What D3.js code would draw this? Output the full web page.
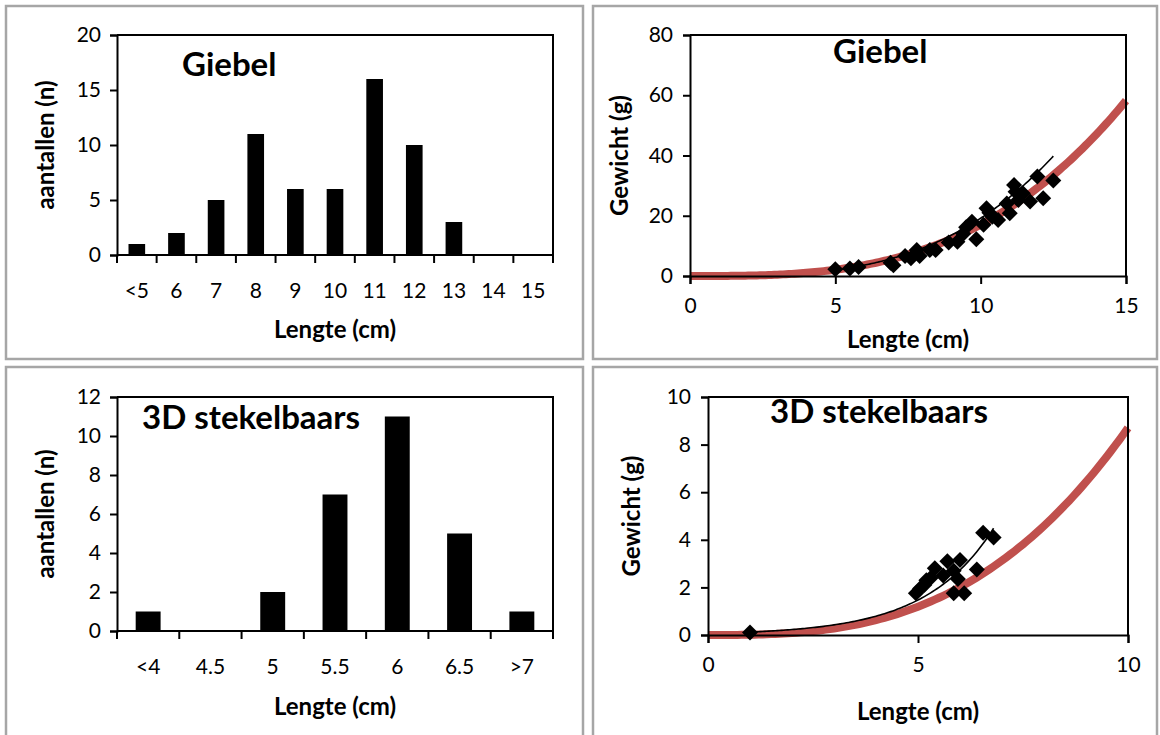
<!DOCTYPE html>
<html>
<head>
<meta charset="utf-8">
<script src="https://cdn.jsdelivr.net/npm/d3@7"></script>
<style>
  html, body { margin: 0; padding: 0; background: #fff; }
  svg { display: block; font-family: Lato, 'Open Sans', sans-serif; }
</style>
</head>
<body>
<svg id="chart" width="1160" height="735"></svg>
<script>
// ---- data ----
var giebelCats = ['<5', '6', '7', '8', '9', '10', '11', '12', '13', '14', '15'];
var giebelCounts = [1, 2, 5, 11, 6, 6, 16, 10, 3, 0, 0];

var stekelCats = ['<4', '4.5', '5', '5.5', '6', '6.5', '>7'];
var stekelCounts = [1, 0, 2, 7, 11, 5, 1];

var giebelLen = [5.0, 5.5, 5.8, 6.9, 7.0, 7.4, 7.6, 7.8, 7.9, 8.25, 8.45, 8.9, 9.2, 9.5, 9.7, 9.85, 10.1, 10.2, 10.4, 10.6, 10.9, 11.0, 11.15, 11.3, 11.45, 11.7, 11.95, 12.15, 12.5, 10.3, 11.2, 9.4];
var giebelWeight = [2.2, 2.5, 3.0, 4.4, 3.6, 6.6, 5.9, 8.6, 6.6, 8.6, 8.6, 11.1, 11.4, 16.2, 18.0, 12.2, 17.0, 22.5, 19.7, 18.6, 24.1, 20.8, 30.2, 25.2, 27.5, 24.7, 33.0, 25.8, 31.7, 21.0, 28.0, 14.0];

var stekelLen = [1.0, 4.95, 5.05, 5.15, 5.2, 5.3, 5.4, 5.6, 5.7, 5.85, 5.85, 5.95, 6.0, 6.1, 6.4, 6.55, 6.8];
var stekelWeight = [0.1, 1.75, 1.95, 2.1, 2.3, 2.4, 2.8, 2.5, 3.1, 2.7, 1.75, 2.35, 3.15, 1.75, 2.75, 4.3, 4.1];

// trend lines (power / exponential fits)
var giebelRef = { a: 0.0159, b: 3.03, from: 0, to: 15 };
var giebelFit = { a: 0.0103, b: 3.27, from: 5, to: 12.5 };
var stekelRef = { a: 0.01174, b: 2.87, from: 0, to: 10 };
var stekelFit = { a: 0.0662, k: 0.62, from: 1, to: 6.8 };

var svg = d3.select('#chart');

// panel frames
[[6, 6, 577, 353], [593, 6, 564, 353], [6, 367, 577, 380], [593, 367, 564, 380]].forEach(function(p) {
  svg.append('rect')
    .attr('x', p[0]).attr('y', p[1]).attr('width', p[2]).attr('height', p[3])
    .attr('fill', 'none').attr('stroke', '#a6a6a6').attr('stroke-width', 2.5);
});

function styleAxis(a) {
  a.select('.domain').attr('stroke', '#000').attr('stroke-width', 2);
  a.selectAll('.tick line').attr('stroke', '#000').attr('stroke-width', 2);
  a.selectAll('.tick text').attr('font-size', 21).attr('fill', '#000').attr('font-family', 'Lato, sans-serif');
}

function labels(g, o, ytitle) {
  g.append('text').attr('x', o.tx).attr('y', o.ty).attr('font-size', 33).attr('font-weight', 700).text(o.title);
  g.append('text').attr('x', (o.x0 + o.x1) / 2).attr('y', o.xly).attr('text-anchor', 'middle')
    .attr('font-size', 24).attr('font-weight', 700).text('Lengte (cm)');
  g.append('text').attr('transform', 'translate(' + o.ylx + ',' + (o.y0 + o.y1) / 2 + ') rotate(-90)')
    .attr('text-anchor', 'middle').attr('font-size', 24).attr('font-weight', 700).text(ytitle);
}

function drawBars(o) {
  var g = svg.append('g');
  var x = d3.scaleBand().domain(o.cats).range([o.x0, o.x1]).paddingInner(o.pad).paddingOuter(o.pad / 2);
  var y = d3.scaleLinear().domain([0, o.ymax]).range([o.y1, o.y0]);

  g.selectAll('rect.bar')
    .data(o.values)
    .enter().append('rect')
    .attr('class', 'bar')
    .attr('x', function(d, i) { return x(o.cats[i]); })
    .attr('y', function(d) { return y(d); })
    .attr('width', x.bandwidth())
    .attr('height', function(d) { return y(0) - y(d); })
    .attr('fill', '#000');

  // box
  g.append('path')
    .attr('d', 'M' + o.x0 + ',' + o.y0 + 'H' + o.x1 + 'V' + o.y1)
    .attr('fill', 'none').attr('stroke', '#000').attr('stroke-width', 2);

  var ya = g.append('g').attr('transform', 'translate(' + o.x0 + ',0)')
    .call(d3.axisLeft(y).tickValues(d3.range(0, o.ymax + 1, o.ystep)).tickSize(7).tickPadding(9));
  styleAxis(ya);

  // category ticks sit between the bars
  var edges = d3.range(o.cats.length + 1).map(function(i) { return o.x0 + i * (o.x1 - o.x0) / o.cats.length; });
  g.selectAll('line.xt').data(edges).enter().append('line')
    .attr('x1', function(d) { return d; }).attr('x2', function(d) { return d; })
    .attr('y1', o.y1).attr('y2', o.y1 + 8)
    .attr('stroke', '#000').attr('stroke-width', 2);
  g.append('line').attr('x1', o.x0).attr('x2', o.x1).attr('y1', o.y1).attr('y2', o.y1)
    .attr('stroke', '#000').attr('stroke-width', 2);
  g.selectAll('text.xl').data(o.cats).enter().append('text')
    .attr('x', function(d) { return x(d) + x.bandwidth() / 2; })
    .attr('y', o.y1 + 43)
    .attr('text-anchor', 'middle')
    .attr('font-size', 21)
    .text(function(d) { return d; });

  labels(g, o, 'aantallen (n)');
}

function drawScatter(o) {
  var g = svg.append('g');
  var x = d3.scaleLinear().domain([0, o.xmax]).range([o.x0, o.x1]);
  var y = d3.scaleLinear().domain([0, o.ymax]).range([o.y1, o.y0]);

  var clip = 'clip-' + o.id;
  svg.append('clipPath').attr('id', clip).append('rect')
    .attr('x', o.x0 - 6).attr('y', o.y0).attr('width', o.x1 - o.x0 + 12).attr('height', o.y1 - o.y0 + 6);

  var line = d3.line().x(function(d) { return x(d[0]); }).y(function(d) { return y(d[1]); });

  var refPts = d3.range(o.ref.from, o.ref.to + 0.001, 0.1).map(function(L) { return [L, o.ref.a * Math.pow(L, o.ref.b)]; });
  g.append('path').datum(refPts).attr('d', line).attr('clip-path', 'url(#' + clip + ')')
    .attr('fill', 'none').attr('stroke', '#c0504d').attr('stroke-width', 8);

  var pts = o.len.map(function(L, i) { return [L, o.wt[i]]; });
  g.selectAll('path.pt').data(pts).enter().append('path')
    .attr('class', 'pt')
    .attr('d', 'M0,-8L8,0L0,8L-8,0Z')
    .attr('transform', function(d) { return 'translate(' + x(d[0]) + ',' + y(d[1]) + ')'; })
    .attr('fill', '#000');

  var fitPts = d3.range(o.fit.from, o.fit.to + 0.001, 0.05).map(function(L) { return [L, o.fitFn(L)]; });
  g.append('path').datum(fitPts).attr('d', line)
    .attr('fill', 'none').attr('stroke', '#000').attr('stroke-width', 1.6);

  g.append('path')
    .attr('d', 'M' + o.x0 + ',' + o.y0 + 'H' + o.x1 + 'V' + o.y1)
    .attr('fill', 'none').attr('stroke', '#000').attr('stroke-width', 2);

  var xa = g.append('g').attr('transform', 'translate(0,' + o.y1 + ')')
    .call(d3.axisBottom(x).tickValues(d3.range(0, o.xmax + 1, o.xstep)).tickSize(8).tickPadding(14));
  var ya = g.append('g').attr('transform', 'translate(' + o.x0 + ',0)')
    .call(d3.axisLeft(y).tickValues(d3.range(0, o.ymax + 1, o.ystep)).tickSize(7).tickPadding(10));
  styleAxis(xa);
  styleAxis(ya);

  labels(g, o, 'Gewicht (g)');
}

drawBars({
  cats: giebelCats, values: giebelCounts, ymax: 20, ystep: 5, pad: 0.58,
  x0: 117, x1: 553, y0: 35, y1: 255,
  title: 'Giebel', tx: 182, ty: 76, xly: 338, ylx: 54
});

drawBars({
  cats: stekelCats, values: stekelCounts, ymax: 12, ystep: 2, pad: 0.6,
  x0: 117, x1: 553, y0: 397, y1: 631,
  title: '3D stekelbaars', tx: 142, ty: 429, xly: 715, ylx: 54
});

drawScatter({
  id: 'g', len: giebelLen, wt: giebelWeight, xmax: 15, xstep: 5, ymax: 80, ystep: 20,
  x0: 690, x1: 1126, y0: 35, y1: 276,
  ref: giebelRef, fit: giebelFit,
  fitFn: function(L) { return giebelFit.a * Math.pow(L, giebelFit.b); },
  title: 'Giebel', tx: 833, ty: 63, xly: 348, ylx: 628
});

drawScatter({
  id: 's', len: stekelLen, wt: stekelWeight, xmax: 10, xstep: 5, ymax: 10, ystep: 2,
  x0: 708, x1: 1128, y0: 397, y1: 635,
  ref: stekelRef, fit: stekelFit,
  fitFn: function(L) { return stekelFit.a * Math.exp(stekelFit.k * L); },
  title: '3D stekelbaars', tx: 770, ty: 423, xly: 720, ylx: 640
});
</script>
</body>
</html>
